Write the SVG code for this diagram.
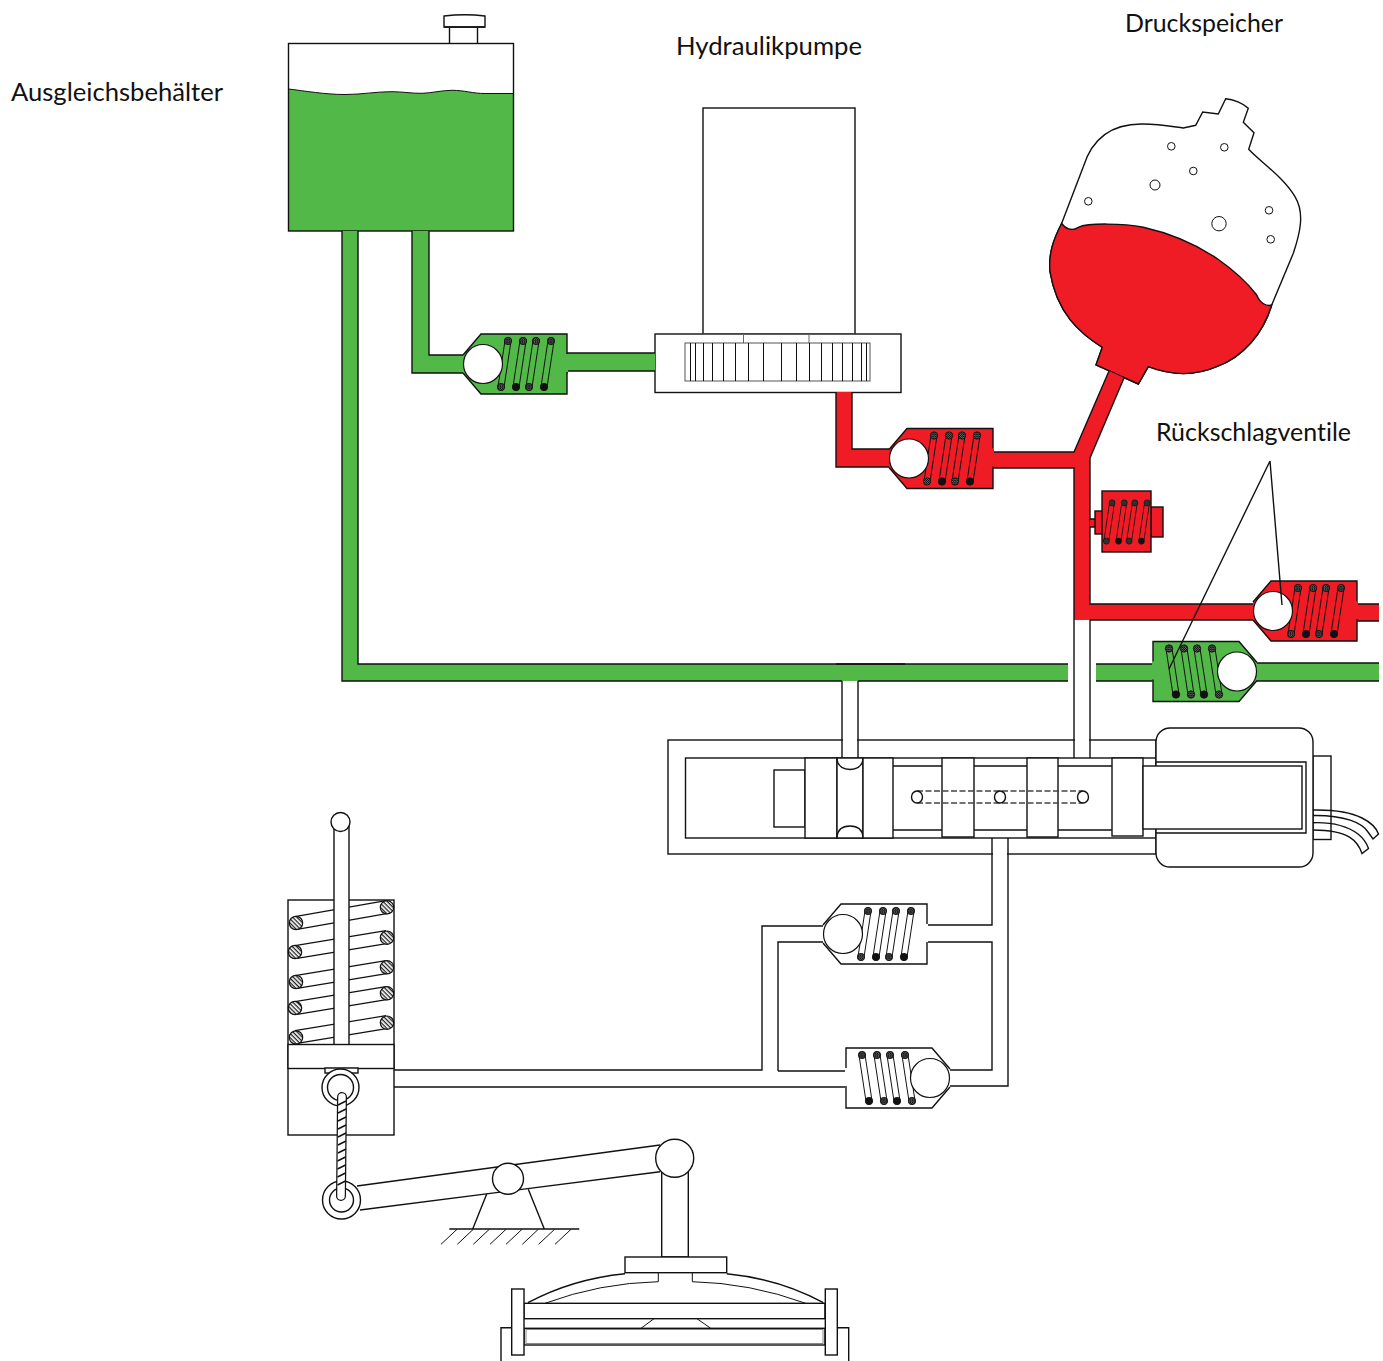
<svg xmlns="http://www.w3.org/2000/svg" width="1383" height="1361" viewBox="0 0 1383 1361">
<style>
.l{fill:none;stroke:#111;stroke-width:1.4}
.t{fill:none;stroke:#111;stroke-width:1}
.w{fill:#fff;stroke:#111;stroke-width:1.4}
.g{fill:#52b848}
.r{fill:#ef1c26}
.rs{fill:#ef1c26;stroke:#111;stroke-width:1.4}
.label{font-family:"Lato","Liberation Sans",sans-serif;font-size:25px;fill:#111;font-variant-ligatures:none}
.rodo{stroke:#111;stroke-width:7;stroke-linecap:round;fill:none}
.rodi{stroke:currentColor;stroke-width:5;stroke-linecap:round;fill:none}
.pin{fill:url(#fine);stroke:#111;stroke-width:.8}
.pinb{fill:#111;stroke:#111;stroke-width:.8}
.hat{fill:url(#hatch);stroke:#111;stroke-width:1.2}
.coilo{stroke:#111;stroke-width:14;fill:none}
.coili{stroke:#fff;stroke-width:11.500;fill:none}
</style>
<defs>
<pattern id="fine" width="2.2" height="2.2" patternUnits="userSpaceOnUse"><rect width="2.2" height="2.2" fill="#666"/><path d="M0 0L2.2 2.2M2.2 0L0 2.2" stroke="#000" stroke-width=".6"/></pattern>
<pattern id="hatch" width="3" height="3" patternUnits="userSpaceOnUse" patternTransform="rotate(45)"><rect width="3" height="3" fill="#fff"/><rect width="3" height="1.3" fill="#222"/></pattern>
<g id="coil">
<path class="rodo" d="M45-23L38 23M60-23L53 23M73-23L66 23M88-23L81 23"/>
<path class="rodi" d="M45-23L38 23M60-23L53 23M73-23L66 23M88-23L81 23"/>
<circle class="pin" cx="45" cy="-23" r="3.7"/><circle class="pin" cx="60" cy="-23" r="3.7"/><circle class="pin" cx="73" cy="-23" r="3.7"/><circle class="pin" cx="88" cy="-23" r="3.7"/>
<circle class="pin" cx="38" cy="23" r="3.7"/><circle class="pinb" cx="53" cy="23" r="3.7"/><circle class="pin" cx="66" cy="23" r="3.7"/><circle class="pinb" cx="81" cy="23" r="3.7"/>
</g>
<g id="valve">
<path d="M0-9L18-30H104V-10H105V10H104V30H18L0 9Z" fill="currentColor"/>
<path class="l" d="M0-9L18-30H104V-10M104 8V30H18L0 9"/>
<use href="#coil"/>
<circle cx="20" cy="0" r="19.5" fill="#fff" stroke="#111" stroke-width="1.2"/>
</g>
</defs>

<g id="tank">
<rect x="288.500" y="43.500" width="225" height="187.500" fill="#fff"/>
<path class="g" d="M288.500 89C305 91 325 94.500 345 94.500C362 94.500 375 91.700 392 91.700C402 91.700 412 93.500 422 93.300C432 93 442 90.300 452 90.300C465 90.300 472 93.500 485 93.500H513.500V231H288.500Z"/>
<path class="t" d="M288.500 89C305 91 325 94.500 345 94.500C362 94.500 375 91.700 392 91.700C402 91.700 412 93.500 422 93.300C432 93 442 90.300 452 90.300C465 90.300 472 93.500 485 93.500H513.500"/>
<rect x="288.500" y="43.500" width="225" height="187.500" class="l"/>
<path class="l" d="M449.500 28V43.500M477.500 28V43.500"/>
<path class="w" d="M444 16Q465 13.500 485 16V27H444Z"/>
<path class="l" d="M444 27H485" stroke-width="2"/>
</g>

<g id="pump">
<rect x="703" y="108" width="152" height="226" class="w"/>
<rect x="655" y="334" width="246" height="58.500" class="w"/>
<path d="M743.500 334V343M809 334V343M703 334H855" fill="none" stroke="#666" stroke-width="1"/>
<rect x="685" y="343" width="185" height="38" fill="#fff" stroke="#555" stroke-width="1"/>
<path class="t" shape-rendering="crispEdges" d="M690 343V381M695 343V381M703 343V381M712 343V381M723 343V381M735 343V381M748 343V381M763 343V381M781 343V381M796 343V381M809 343V381M821 343V381M832 343V381M842 343V381M852 343V381M861 343V381M866 343V381"/>
</g>

<g id="accumulator">
<path class="w" d="M1061.700 223.300L1083.300 166.700C1091.700 140 1110 123.300 1143.300 124C1160 124 1173.300 126.700 1183.300 128L1195.700 125.300L1202.700 112L1218.300 114L1225.700 98.700C1233.300 99.300 1243.300 103.300 1248.300 108.300L1243.300 122.300L1254 132.700L1248.700 149.300C1260 161.700 1283.300 176.700 1295 196.700C1305 213.300 1300 233.300 1293.300 253.300L1271.700 305C1263.300 333.300 1243.300 356.700 1216.700 366.700C1193.300 376.700 1170 375 1148.300 366.700L1138.300 384L1096 365L1102.300 347.300C1080 333.300 1056.700 313.300 1050 271.700C1048.300 253.300 1053.300 240 1061.700 223.300Z"/>
<path class="r" d="M1061.700 223.300C1065 228.300 1071.700 231.700 1078.300 227.300C1088.300 222.700 1123.300 223.300 1143.300 227.300C1170 233.300 1196.700 245 1216.700 258.300C1233.300 270 1246.700 281.700 1256.700 295C1260 303.300 1266.700 306.700 1271.700 305C1263.300 333.300 1243.300 356.700 1216.700 366.700C1193.300 376.700 1170 375 1148.300 366.700L1138.300 384L1096 365L1102.300 347.300C1080 333.300 1056.700 313.300 1050 271.700C1048.300 253.300 1053.300 240 1061.700 223.300Z"/>
<path class="l" d="M1061.700 223.300C1065 228.300 1071.700 231.700 1078.300 227.300C1088.300 222.700 1123.300 223.300 1143.300 227.300C1170 233.300 1196.700 245 1216.700 258.300C1233.300 270 1246.700 281.700 1256.700 295C1260 303.300 1266.700 306.700 1271.700 305C1263.300 333.300 1243.300 356.700 1216.700 366.700C1193.300 376.700 1170 375 1148.300 366.700L1138.300 384L1096 365L1102.300 347.300C1080 333.300 1056.700 313.300 1050 271.700C1048.300 253.300 1053.300 240 1061.700 223.300Z"/>
<circle class="t" cx="1171.300" cy="146.300" r="3.800"/><circle class="t" cx="1224.300" cy="147.300" r="3.800"/><circle class="t" cx="1193.300" cy="171" r="3.800"/><circle class="t" cx="1155" cy="185" r="5"/><circle class="t" cx="1088.300" cy="201.300" r="3.800"/><circle class="t" cx="1219" cy="223.700" r="7.200"/><circle class="t" cx="1269" cy="210.300" r="3.800"/><circle class="t" cx="1270.700" cy="239.300" r="3.800"/>
</g>

<g id="spool-valve">
<rect x="668" y="740" width="488" height="114" class="w"/>
<rect x="685.500" y="758" width="470.500" height="80" class="w"/>
<rect x="774" y="770" width="31" height="57" class="w"/>
<path class="l" d="M893 766H1114M893 830H1114"/>
<rect x="805" y="758" width="32" height="80" class="w"/>
<rect x="837" y="758" width="26" height="80" class="w"/>
<path class="l" d="M837 759Q838 769 850 769.500Q862 769 863 759M837 837Q838 826 850 826Q862 826 863 837"/>
<rect x="863" y="758" width="30" height="80" class="w"/>
<rect x="942" y="758" width="32" height="79" class="w"/>
<rect x="1027" y="758" width="31" height="79" class="w"/>
<rect x="1112" y="758" width="31" height="78" class="w"/>
<path d="M917 791H1083M917 803H1083" fill="none" stroke="#444" stroke-width="1.300" stroke-dasharray="6 2.500"/>
<ellipse class="w" cx="917" cy="797" rx="5.500" ry="6" stroke-width="1.200"/>
<ellipse class="w" cx="1000" cy="797" rx="5.500" ry="6" stroke-width="1.200"/>
<ellipse class="w" cx="1083" cy="797" rx="5.500" ry="6" stroke-width="1.200"/>
</g>

<g id="connectors">
<path class="g" d="M342 231H358V664H1068V681H342Z"/>
<path class="l" d="M342 231V681H842M858 681H1068M358 231V664H1068"/>
<path class="l" d="M836 664H905"/>
<path class="g" d="M412 231H429V355H465V373H412Z"/>
<path class="l" d="M412 231V373H463M429 231V355H463"/>
<path class="g" d="M565 353H655V371H565Z"/>
<path class="l" d="M567 353H655M567 371H655"/>
<path class="g" d="M1096 664H1155V681H1096Z"/>
<path class="l" d="M1096 664H1153M1096 681H1153"/>
<path class="g" d="M1254 663H1379V681H1254Z"/>
<path class="l" d="M1256 663H1379M1256 681H1379"/>
<path class="r" d="M836 392H852V449H891V467H836Z"/>
<path class="l" d="M836 392V467H889M852 392V449H889"/>
<path class="r" d="M991 452H1074L1109 371L1124 378L1090 458V604H1255V620H1074V468H991Z"/>
<path class="l" d="M993 452H1074L1109 371M1124 378L1090 458V604H1253M1090 620H1253M1074 620V468H993"/>
<path class="r" d="M1355 604H1379V621H1355Z"/>
<path class="l" d="M1357 604H1379M1357 621H1379"/>
<path class="r" d="M1090 519H1096V527H1090Z"/>
<path class="l" d="M1090 519H1095M1090 527H1095"/>
<rect x="843" y="681" width="14" height="76" fill="#fff"/>
<rect x="1075" y="621" width="14" height="136" fill="#fff"/>
<rect x="993" y="839" width="14" height="240" fill="#fff"/>
<path class="l" d="M842 681V758M858 681V758M1074 620V758M1090 620V758"/>
<path class="l" d="M394 1070H762V926H823M394 1087H846M778 1071V942H823M778 1071H846M927 925H992V838M1008 838V1086H950M927 942H992V1070H949"/>
</g>

<g id="valve-green-1" style="color:#52b848" transform="translate(463,364)"><use href="#valve"/></g>
<g id="valve-red-1" style="color:#ef1c26" transform="translate(889,458.500)"><use href="#valve"/></g>
<g id="valve-red-2" style="color:#ef1c26" transform="translate(1253,611)"><use href="#valve"/></g>
<g id="valve-green-2" style="color:#52b848" transform="translate(1257,671.500) scale(-1,1)"><use href="#valve"/></g>
<g id="valve-white-1" style="color:#fff" transform="translate(823,934)"><use href="#valve"/></g>
<g id="valve-white-2" style="color:#fff" transform="translate(950,1078) scale(-1,1)"><use href="#valve"/></g>

<g id="relief-valve" style="color:#ef1c26">
<rect x="1151" y="507" width="12" height="30" class="rs"/>
<rect x="1095" y="511" width="8" height="23" class="rs"/>
<rect x="1102" y="491" width="49" height="61" class="rs"/>
<use href="#coil" transform="translate(1075.400,522) scale(.814,.83)"/>
</g>

<g id="leaders"><path class="l" d="M1270 461L1169 669M1270 461L1282 605"/></g>

<g id="solenoid">
<rect x="1313" y="756" width="18" height="83.500" class="w"/>
<path class="l" d="M1313 810C1335 809.500 1350 812 1362 818C1371 822.500 1376 827 1378.500 834L1373 839L1368 832C1362 823 1345 815 1313 815.500"/>
<path class="l" d="M1313 822.700C1335 822 1350 828 1358 834C1363 838 1367 844 1368.500 848.500L1362 853.500C1358 842 1350 830 1313 830"/>
<rect x="1156" y="728" width="157" height="139" rx="14" class="w"/>
<path class="l" d="M1156 762H1306V833H1156"/>
<rect x="1143" y="766" width="159" height="63" class="w"/>
</g>

<g id="actuator">
<rect x="288" y="900" width="106" height="235" class="w"/>
<path class="coilo" d="M296 923L387 907M296 952L387 937M296 982L387 967M296 1008L387 993M296 1037L387 1022"/>
<path class="coili" d="M296 923L387 907M296 952L387 937M296 982L387 967M296 1008L387 993M296 1037L387 1022"/>
<circle class="hat" cx="296" cy="923" r="6.700"/><circle class="hat" cx="295" cy="952" r="6.700"/><circle class="hat" cx="296" cy="982" r="6.700"/><circle class="hat" cx="295" cy="1008" r="6.700"/><circle class="hat" cx="296" cy="1037.500" r="6.700"/>
<circle class="hat" cx="387" cy="907.300" r="6.700"/><circle class="hat" cx="387" cy="937.700" r="6.700"/><circle class="hat" cx="387" cy="967.300" r="6.700"/><circle class="hat" cx="387" cy="993.300" r="6.700"/><circle class="hat" cx="387" cy="1022.700" r="6.700"/>
<rect x="334" y="822" width="15" height="224" class="w"/>
<circle class="w" cx="340.500" cy="822" r="9.500"/>
<rect x="288" y="1044.500" width="106" height="24" class="w"/>
<rect x="325" y="1068" width="33" height="5" class="w" stroke-width="1"/>
<circle class="w" cx="340.500" cy="1087.500" r="18.500"/>
<circle class="w" cx="340.500" cy="1087.500" r="13"/>
</g>

<g id="lever">
<path class="l" d="M357 1186L660 1145M360 1210L660 1171.700"/>
<path class="l" d="M486.700 1194L472.700 1229M528.300 1189.300L544.300 1229M449.300 1229H579.300"/>
<path class="t" d="M441 1244.300L457 1229.300M457.300 1244.300L473.300 1229.300M473.300 1244.300L489.300 1229.300M490 1244.300L506 1229.300M506 1244.300L522 1229.300M522.300 1244.300L538.300 1229.300M538.600 1244.300L554.600 1229.300M555 1244.300L571 1229.300"/>
<circle class="w" cx="341.500" cy="1200" r="19"/>
<circle class="w" cx="341.500" cy="1200" r="12"/>
<path d="M342 1097L341 1196" stroke="#111" stroke-width="10" stroke-linecap="round" fill="none"/>
<path d="M342 1097L341 1196" stroke="#fff" stroke-width="7.500" stroke-linecap="round" fill="none"/>
<path class="l" d="M338 1105L346 1101M338 1113L346 1109M338 1121L346 1117M338 1129L346 1125M338 1137L346 1133M338 1145L346 1141M338 1153L346 1149M337.500 1161L345.500 1157M337.500 1169L345.500 1165M337.500 1177L345.500 1173M337.500 1185L345.500 1181" stroke-width="1.200"/>
<circle class="w" cx="508" cy="1178.700" r="15.500"/>
<path class="w" d="M661.700 1165V1257H688.300V1165"/>
<circle class="w" cx="674.700" cy="1158.300" r="19"/>
</g>

<g id="brake-pedal">
<rect x="625" y="1257" width="101.700" height="15.700" class="w"/>
<path class="l" d="M528 1302.700Q572 1279 625 1273.700M823.300 1302.700Q780 1279 726.700 1273.700"/>
<path class="t" d="M545 1303.300Q600 1283 658.300 1281.700V1273M805.700 1303.300Q750 1283 692.300 1281.700V1273"/>
<path class="l" d="M501 1361V1327.700H511.700M837.300 1327.700H848.700V1361"/>
<rect x="524" y="1303.300" width="301" height="15.400" class="w"/>
<path class="t" d="M641 1328.300L654 1318.700M710.700 1328.300L697 1318.700"/>
<rect x="524" y="1328.300" width="301" height="16.700" class="w"/>
<rect x="526" y="1329.500" width="297" height="14" fill="none" stroke="#888" stroke-width="1"/>
<rect x="511.700" y="1289" width="12.300" height="66" class="w"/>
<rect x="825.300" y="1289" width="12" height="66" class="w"/>
</g>

<g id="labels">
<text class="label" x="11" y="101" textLength="212" lengthAdjust="spacingAndGlyphs">Ausgleichsbehälter</text>
<text class="label" x="676" y="55" textLength="186" lengthAdjust="spacingAndGlyphs">Hydraulikpumpe</text>
<text class="label" x="1125" y="32" textLength="158" lengthAdjust="spacingAndGlyphs">Druckspeicher</text>
<text class="label" x="1156" y="441" textLength="195" lengthAdjust="spacingAndGlyphs">Rückschlagventile</text>
</g>
</svg>
